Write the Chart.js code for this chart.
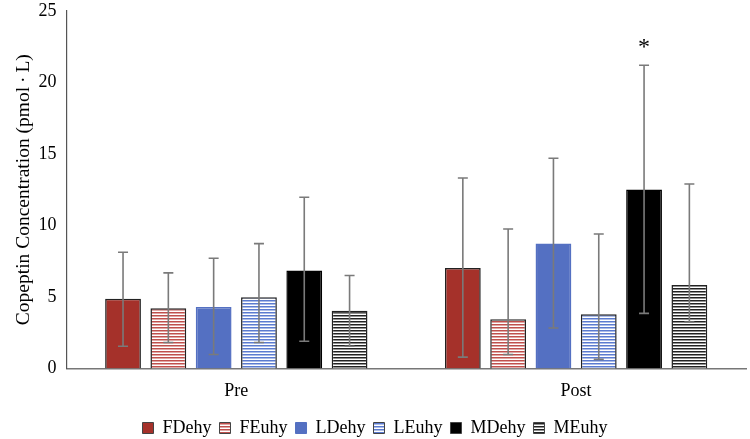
<!DOCTYPE html>
<html>
<head>
<meta charset="utf-8">
<script src="https://cdn.jsdelivr.net/npm/chart.js@4.4.1/dist/chart.umd.min.js"></script>
<style>
  html, body { margin: 0; padding: 0; background: #fff; }
  #wrap { width: 750px; height: 439px; }
</style>
</head>
<body>
<div id="wrap"><canvas id="chart"></canvas></div>
<script>
const categories = ["Pre", "Post"];
const seriesNames = ["FDehy", "FEuhy", "LDehy", "LEuhy", "MDehy", "MEuhy"];
// means per series, [Pre, Post]
const FDehy = [4.87, 7.03];
const FEuhy = [4.2, 3.43];
const LDehy = [4.3, 8.73];
const LEuhy = [4.97, 3.78];
const MDehy = [6.85, 12.51];
const MEuhy = [4.04, 5.83];
// error bar ends
const errLow = [[1.55, 0.79], [1.81, 0.97], [0.97, 2.83], [1.81, 0.63], [1.9, 3.85], [1.55, 3.25]];
const errHigh = [[8.12, 13.32], [6.68, 9.75], [7.71, 14.7], [8.73, 9.4], [11.97, 21.2], [6.5, 12.9]];
const yTicks = [0, 5, 10, 15, 20, 25];

function stripes(color) {
  const c = document.createElement("canvas");
  c.width = 6; c.height = 6;
  const g = c.getContext("2d");
  g.fillStyle = "#fff";
  g.fillRect(0, 0, 6, 6);
  g.fillStyle = color;
  g.fillRect(0, 0, 6, 1.5);
  g.fillRect(0, 3, 6, 1.5);
  return g.createPattern(c, "repeat");
}

const ctx = document.getElementById("chart").getContext("2d");
const fills = ["#a5312a", stripes("#c0504d"), "#5470c2", stripes("#5b7bd0"), "#000", stripes("#222")];
const borders = ["#222", "#222", "#5470c2", "#222", "#000", "#222"];
const allData = [FDehy, FEuhy, LDehy, LEuhy, MDehy, MEuhy];
const serif = "'Liberation Serif', 'Times New Roman', serif";

const errorBars = {
  id: "errorBars",
  afterDatasetsDraw(chart) {
    const c = chart.ctx;
    const y = chart.scales.y;
    c.save();
    c.strokeStyle = "#7a7a7a";
    c.lineWidth = 1.6;
    chart.data.datasets.forEach((ds, i) => {
      const meta = chart.getDatasetMeta(i);
      meta.data.forEach((bar, j) => {
        const x = bar.x;
        const lo = y.getPixelForValue(errLow[i][j]);
        const hi = y.getPixelForValue(errHigh[i][j]);
        c.beginPath();
        c.moveTo(x, lo); c.lineTo(x, hi);
        c.moveTo(x - 5, lo); c.lineTo(x + 5, lo);
        c.moveTo(x - 5, hi); c.lineTo(x + 5, hi);
        c.stroke();
      });
    });
    // significance marker above MDehy Post
    const m = chart.getDatasetMeta(4).data[1];
    c.fillStyle = "#000";
    c.font = "24px " + serif;
    c.textAlign = "center";
    c.textBaseline = "middle";
    c.fillText("*", m.x, y.getPixelForValue(errHigh[4][1]) - 18);
    c.restore();
  }
};

new Chart(ctx, {
  type: "bar",
  data: {
    labels: categories,
    datasets: seriesNames.map((name, i) => ({
      label: name,
      data: allData[i],
      backgroundColor: fills[i],
      borderColor: borders[i],
      borderWidth: 1.5,
      categoryPercentage: 0.8,
      barPercentage: 0.79
    }))
  },
  options: {
    responsive: true,
    maintainAspectRatio: false,
    animation: false,
    layout: { padding: { top: 0, right: 4, left: 4, bottom: -8 } },
    plugins: {
      legend: {
        position: "bottom",
        labels: {
          color: "#000",
          font: { family: serif, size: 18 },
          boxWidth: 11,
          boxHeight: 11,
          padding: 8,
          generateLabels(chart) {
            return seriesNames.map((n, i) => ({
              text: n,
              fillStyle: fills[i],
              strokeStyle: i === 2 ? "#5470c2" : "#444",
              lineWidth: 1,
              datasetIndex: i
            }));
          }
        }
      },
      tooltip: { enabled: false }
    },
    scales: {
      x: {
        grid: { display: false, drawTicks: false },
        border: { color: "#777", width: 1.5 },
        ticks: { color: "#000", font: { family: serif, size: 18 }, padding: 12 },
        afterFit(axis) { axis.height -= 3; }
      },
      y: {
        min: 0,
        max: 25,
        afterBuildTicks(axis) { axis.ticks = yTicks.map(v => ({ value: v })); },
        afterFit(axis) { axis.width -= 7; axis.paddingTop = 11; },
        grid: { display: false, drawTicks: false },
        border: { color: "#555", width: 1.2 },
        ticks: { color: "#000", font: { family: serif, size: 18 }, padding: 10 },
        title: {
          display: true,
          text: "Copeptin Concentration (pmol\u2009\u00b7\u2009L)",
          color: "#000",
          font: { family: serif, size: 19.5 },
          padding: { top: 8, bottom: 0 }
        }
      }
    }
  },
  plugins: [errorBars]
});
</script>
</body>
</html>
